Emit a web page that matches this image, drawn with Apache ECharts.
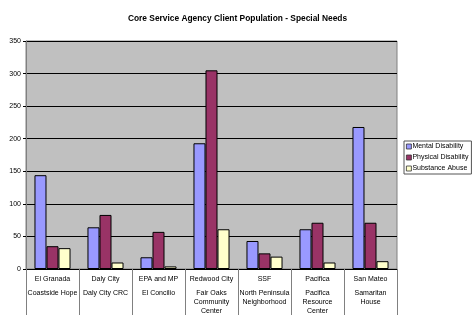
<!DOCTYPE html>
<html><head><meta charset="utf-8">
<script src="https://cdn.jsdelivr.net/npm/echarts@6/dist/echarts.min.js"></script>
<style>html,body{margin:0;padding:0;background:#fff}#c{width:475px;height:325px}</style>
</head><body><div id="c"></div>
<script>
var cities = ["El Granada","Daly City","EPA and MP","Redwood City","SSF","Pacifica","San Mateo"];
var agencies = [["Coastside Hope"],["Daly City CRC"],["El Concilio"],["Fair Oaks","Community","Center"],["North Peninsula","Neighborhood"],["Pacifica","Resource","Center"],["Samaritan","House"]];
var mental = [144,64,18,193,43,61,218];
var physical = [35,83,57,305,24,71,71];
var substance = [32,10,4,61,19,10,12];
var seriesNames = ["Mental Disability","Physical Disability","Substance Abuse"];
var yTicks = [0,50,100,150,200,250,300,350];

var labels = cities.map(function(c,i){
  return "{a|"+c+"}\n" + agencies[i].map(function(s){return "{b|"+s+"}";}).join("\n");
});
var chart = echarts.init(document.getElementById('c'), null, {renderer:'canvas'});
var font = "Liberation Sans, Arial, sans-serif";
function bar(name, data, color){
  return {name:name, type:'bar', data:data, barGap:'0%', barCategoryGap:'32%',
    itemStyle:{color:color, borderColor:'#000', borderWidth:1}};
}
chart.setOption({
  animation:false,
  title:{text:"Core Service Agency Client Population - Special Needs", left:'center', top:10,
    textStyle:{fontFamily:font, fontSize:8.4, fontWeight:'bold', color:'#000'}},
  legend:{orient:'vertical', left:404, top:141, itemWidth:5, itemHeight:5, itemGap:4,
    padding:[2,3,2,2], borderColor:'#555', borderWidth:1,
    textStyle:{fontFamily:font, fontSize:7, color:'#000', padding:[0,0,0,-4]},
    itemStyle:{borderColor:'#333', borderWidth:0.8},
    icon:'rect', data:seriesNames},
  grid:{left:26, right:78, top:41, bottom:56, show:true, backgroundColor:'#C0C0C0', borderColor:'#808080', borderWidth:1},
  xAxis:{type:'category', data:labels,
    axisLine:{show:false},
    axisTick:{show:true, length:46, lineStyle:{color:'#808080'}},
    axisLabel:{margin:1, interval:0, color:'#000', fontFamily:font,
      rich:{a:{fontSize:7, lineHeight:19, fontFamily:font, color:'#000'},
            b:{fontSize:7, lineHeight:9, fontFamily:font, color:'#000'}}}},
  yAxis:{type:'value', min:yTicks[0], max:yTicks[yTicks.length-1], interval:50,
    axisLine:{show:true, lineStyle:{color:'#808080'}}, axisTick:{show:true, length:3, lineStyle:{color:'#000'}},
    axisLabel:{fontFamily:font, fontSize:7, color:'#000', margin:5},
    splitLine:{lineStyle:{color:'#000', width:1}}},
  series:[bar(seriesNames[0], mental, '#9999FF'), bar(seriesNames[1], physical, '#993366'), bar(seriesNames[2], substance, '#FFFFCC')]
});
</script></body></html>
